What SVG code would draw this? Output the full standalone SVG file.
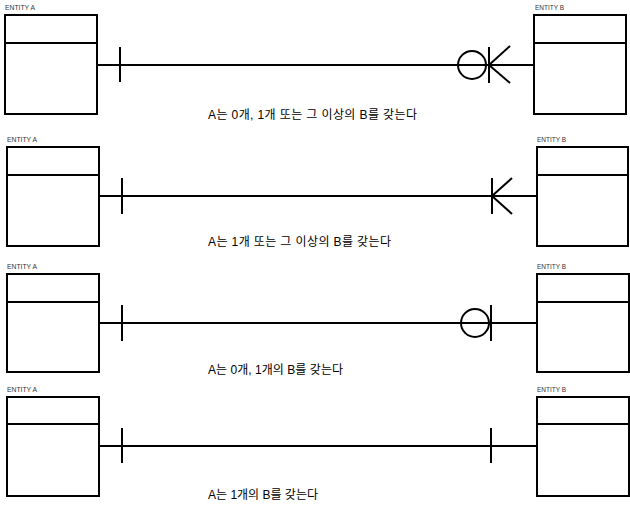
<svg xmlns="http://www.w3.org/2000/svg" width="630" height="506" viewBox="0 0 630 506">
<style>
.box{fill:#fff;stroke:#000;stroke-width:2}
.ln{fill:none;stroke:#000;stroke-width:2}
.lbl{font-family:"Liberation Sans","Noto Sans CJK KR",sans-serif;font-size:7px;fill:#333}
.cap{font-family:"Liberation Sans","Noto Sans CJK KR",sans-serif;font-size:12px;fill:#000}
</style>
<rect width="630" height="506" fill="#fff"/>
<!-- Row 1 -->
<g id="r1-entity-a">
<text class="lbl" x="5" y="10" textLength="30" lengthAdjust="spacingAndGlyphs">ENTITY A</text>
<rect class="box" x="5" y="15" width="92" height="99"/>
<line class="ln" x1="5" y1="43" x2="97" y2="43"/>
</g>
<g id="r1-entity-b">
<text class="lbl" x="535" y="10" textLength="29" lengthAdjust="spacingAndGlyphs">ENTITY B</text>
<rect class="box" x="534" y="15" width="92" height="99"/>
<line class="ln" x1="534" y1="43" x2="626" y2="43"/>
</g>
<!-- Row 2 -->
<g id="r2-entity-a">
<text class="lbl" x="7" y="142" textLength="30" lengthAdjust="spacingAndGlyphs">ENTITY A</text>
<rect class="box" x="7" y="147" width="92" height="99"/>
<line class="ln" x1="7" y1="175" x2="99" y2="175"/>
</g>
<g id="r2-entity-b">
<text class="lbl" x="537" y="142" textLength="29" lengthAdjust="spacingAndGlyphs">ENTITY B</text>
<rect class="box" x="537" y="147" width="91" height="99"/>
<line class="ln" x1="537" y1="175" x2="628" y2="175"/>
</g>
<!-- Row 3 -->
<g id="r3-entity-a">
<text class="lbl" x="7" y="269" textLength="30" lengthAdjust="spacingAndGlyphs">ENTITY A</text>
<rect class="box" x="7" y="274" width="92" height="98"/>
<line class="ln" x1="7" y1="302" x2="99" y2="302"/>
</g>
<g id="r3-entity-b">
<text class="lbl" x="537" y="269" textLength="29" lengthAdjust="spacingAndGlyphs">ENTITY B</text>
<rect class="box" x="537" y="274" width="92" height="98"/>
<line class="ln" x1="537" y1="302" x2="629" y2="302"/>
</g>
<!-- Row 4 -->
<g id="r4-entity-a">
<text class="lbl" x="7" y="392" textLength="30" lengthAdjust="spacingAndGlyphs">ENTITY A</text>
<rect class="box" x="7" y="397" width="92" height="99"/>
<line class="ln" x1="7" y1="424" x2="99" y2="424"/>
</g>
<g id="r4-entity-b">
<text class="lbl" x="537" y="392" textLength="29" lengthAdjust="spacingAndGlyphs">ENTITY B</text>
<rect class="box" x="537" y="397" width="92" height="99"/>
<line class="ln" x1="537" y1="424" x2="629" y2="424"/>
</g>
<g id="connectors">
<!-- Row 1: one to zero-or-many -->
<line class="ln" x1="97" y1="65" x2="534" y2="65"/>
<line class="ln" x1="120" y1="47" x2="120" y2="82"/>
<circle class="ln" cx="472" cy="65" r="14"/>
<line class="ln" x1="489" y1="47" x2="489" y2="83"/>
<line class="ln" x1="489" y1="65" x2="510" y2="46"/>
<line class="ln" x1="489" y1="65" x2="510" y2="83"/>
<!-- Row 2: one to one-or-many -->
<line class="ln" x1="99" y1="196" x2="537" y2="196"/>
<line class="ln" x1="122" y1="178" x2="122" y2="214"/>
<line class="ln" x1="492" y1="178" x2="492" y2="214"/>
<line class="ln" x1="492" y1="196" x2="512" y2="178"/>
<line class="ln" x1="492" y1="196" x2="512" y2="214"/>
<!-- Row 3: one to zero-or-one -->
<line class="ln" x1="99" y1="323" x2="537" y2="323"/>
<line class="ln" x1="122" y1="305" x2="122" y2="341"/>
<circle class="ln" cx="475" cy="323" r="14"/>
<line class="ln" x1="491" y1="305" x2="491" y2="341"/>
<!-- Row 4: one to one -->
<line class="ln" x1="99" y1="446" x2="537" y2="446"/>
<line class="ln" x1="122" y1="428" x2="122" y2="463"/>
<line class="ln" x1="491" y1="428" x2="491" y2="463"/>
</g>
<text class="cap" x="208" y="119" textLength="209" lengthAdjust="spacing">A는 0개, 1개 또는 그 이상의 B를 갖는다</text>
<text class="cap" x="208" y="246" textLength="183" lengthAdjust="spacing">A는 1개 또는 그 이상의 B를 갖는다</text>
<text class="cap" x="208" y="374" textLength="135" lengthAdjust="spacing">A는 0개, 1개의 B를 갖는다</text>
<text class="cap" x="208" y="499" textLength="110" lengthAdjust="spacing">A는 1개의 B를 갖는다</text>
</svg>
